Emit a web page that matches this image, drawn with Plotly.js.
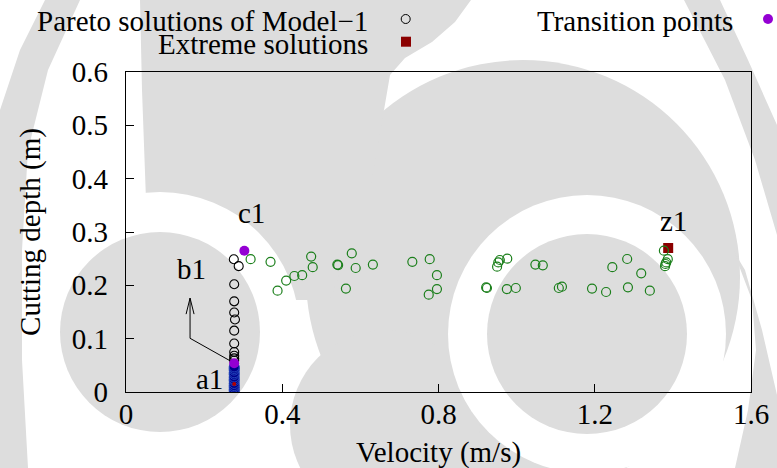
<!DOCTYPE html>
<html>
<head>
<meta charset="utf-8">
<script src="https://cdn.plot.ly/plotly-3.0.1.min.js"></script>
<style>
  html, body { margin: 0; padding: 0; background: #ffffff; }
  #chart { width: 777px; height: 468px; }
</style>
</head>
<body>
<div id="chart"></div>
<script>
// Pareto solutions of Model-1 (velocity in m/s, cutting depth in m)
const model1Velocity = [0.276, 0.2885, 0.277, 0.277, 0.277, 0.279, 0.277, 0.277, 0.277, 0.277, 0.277, 0.277];
const model1Depth    = [0.249, 0.236, 0.202, 0.170, 0.149, 0.136, 0.115, 0.091, 0.075, 0.068, 0.063, 0.059];

// Extreme solutions (a1, z1)
const extremeVelocity = [0.277, 1.388];
const extremeDepth    = [0.000, 0.270];

// Transition points (a1 -> b1 and c1)
const transitionVelocity = [0.277, 0.303];
const transitionDepth    = [0.054, 0.265];

// Second solution family along the upper branch
const upperVelocity = [0.319, 0.370, 0.388, 0.410, 0.431, 0.451, 0.474, 0.478, 0.541, 0.543,
                       0.578, 0.588, 0.563, 0.632, 0.733, 0.7775, 0.796, 0.796, 0.775, 0.922,
                       0.924, 0.957, 0.950, 0.953, 0.976, 0.975, 0.998, 1.048, 1.067, 1.108,
                       1.116, 1.193, 1.229, 1.245, 1.283, 1.285, 1.319, 1.341, 1.377, 1.387,
                       1.383, 1.380, 1.381];
const upperDepth    = [0.249, 0.244, 0.190, 0.209, 0.2175, 0.219, 0.254, 0.234, 0.239, 0.238,
                       0.260, 0.2325, 0.194, 0.239, 0.244, 0.249, 0.219, 0.193, 0.1825, 0.196,
                       0.195, 0.2475, 0.235, 0.243, 0.250, 0.193, 0.195, 0.239, 0.2375, 0.195,
                       0.1975, 0.194, 0.1875, 0.234, 0.2494, 0.1963, 0.2225, 0.190, 0.265, 0.249,
                       0.243, 0.236, 0.240];

// Low-depth cluster stacked at the minimum velocity
const lowVelocity = [0.277, 0.277, 0.277, 0.277, 0.277, 0.277, 0.277, 0.277, 0.277, 0.277, 0.277, 0.277, 0.277];
const lowDepth    = [0.002, 0.005, 0.009, 0.012, 0.016, 0.021, 0.024, 0.028, 0.033, 0.036, 0.041, 0.044, 0.047];
const lowMarkVelocity = [0.277];
const lowMarkDepth    = [0.015];

// Point labels
const labelText     = ['a1', 'b1', 'c1', 'z1'];
const labelVelocity = [0.214, 0.168, 0.322, 1.402];
const labelDepth    = [0.024, 0.230, 0.336, 0.320];

// Arrow from the a1 transition towards b1
const arrowVelocity = [0.266, 0.164, 0.164];
const arrowDepth    = [0.0587, 0.1007, 0.176];

const SERIF = 'Liberation Serif, DejaVu Serif, serif';
const FS = 29;
const GRAY = '#dddddd';

// ---- page geometry helpers (pixel -> paper fraction) ----
const W = 777, H = 468, ML = 126, MR = 26, MT = 72, MB = 76;
const PW = W - ML - MR, PH = H - MT - MB;
const px = x => (x - ML) / PW;
const py = y => (H - MB - y) / PH;

function disc(cx, cy, r, color) {
  return { type: 'circle', xref: 'paper', yref: 'paper', layer: 'below',
    x0: px(cx - r), x1: px(cx + r), y0: py(cy + r), y1: py(cy - r),
    fillcolor: color, line: { width: 0 } };
}
function poly(pts, color) {
  const d = pts.map((p, i) => (i ? 'L' : 'M') + px(p[0]).toFixed(5) + ',' + py(p[1]).toFixed(5)).join(' ') + ' Z';
  return { type: 'path', xref: 'paper', yref: 'paper', layer: 'below', path: d,
    fillcolor: color, line: { width: 0 } };
}

// soft grey swirl decoration behind the figure
const decor = [
  disc(523, 277, 217, GRAY),
  poly([[140, 0], [471, 0], [455, 22], [432, 42], [405, 58], [390, 75], [384, 110], [370, 190],
        [330, 300], [150, 300], [146, 200], [142, 90]], GRAY),
  disc(385, 425, 95, GRAY),
  disc(160, 332, 140, '#ffffff'),
  disc(160, 332, 100, GRAY),
  disc(587, 334, 139, '#ffffff'),
  disc(587, 334, 100, GRAY),
  poly([[45, 0], [80, 0], [48, 70], [28, 150], [22, 250], [22, 360], [28, 468], [0, 468], [0, 110], [20, 50]], GRAY),
  poly([[684, 0], [720, 0], [748, 60], [777, 125], [777, 235], [755, 160], [725, 80]], GRAY),
  poly([[733, 250], [752, 300], [756, 350], [748, 410], [735, 468], [777, 468], [777, 395], [762, 330], [745, 270]], GRAY)
];

// b1 arrow (polyline plus open head)
const headHalf = 0.0102, headLen = 0.030;
const tipV = arrowVelocity[2], tipD = arrowDepth[2];
const arrowShape = {
  type: 'path', xref: 'x', yref: 'y', layer: 'above',
  path: 'M ' + arrowVelocity[0] + ',' + arrowDepth[0] + ' L ' + arrowVelocity[1] + ',' + arrowDepth[1] +
        ' L ' + tipV + ',' + tipD +
        ' M ' + (tipV - headHalf) + ',' + (tipD - headLen) + ' L ' + tipV + ',' + tipD +
        ' L ' + (tipV + headHalf) + ',' + (tipD - headLen),
  line: { color: '#000000', width: 1 }
};

// key symbols drawn in pixel space
const keyShapes = [
  { type: 'circle', xref: 'paper', yref: 'paper', layer: 'above',
    x0: px(405.7 - 4.5), x1: px(405.7 + 4.5), y0: py(19 + 4.5), y1: py(19 - 4.5),
    line: { color: '#000000', width: 1 }, fillcolor: 'rgba(0,0,0,0)' },
  { type: 'rect', xref: 'paper', yref: 'paper', layer: 'above',
    x0: px(401), x1: px(411), y0: py(46.7), y1: py(36.7),
    line: { width: 0 }, fillcolor: '#8b0000' },
  { type: 'circle', xref: 'paper', yref: 'paper', layer: 'above',
    x0: px(768 - 5), x1: px(768 + 5), y0: py(19 + 5), y1: py(19 - 5),
    line: { width: 0 }, fillcolor: '#9400d3' }
];

const keyText = [
  { text: 'Pareto solutions of Model\u22121', x: px(370), y: py(21) },
  { text: 'Extreme solutions', x: px(370), y: py(44) },
  { text: 'Transition points', x: px(735), y: py(21) }
].map(k => ({ xref: 'paper', yref: 'paper', x: k.x, y: k.y, text: k.text,
  xanchor: 'right', yanchor: 'middle', showarrow: false,
  font: { family: SERIF, size: FS, color: '#000000' } }));

// x-axis title placed just under the tick labels
const xTitle = { xref: 'paper', yref: 'paper', x: 0.5, y: py(452), text: 'Velocity (m/s)',
  xanchor: 'center', yanchor: 'middle', showarrow: false,
  font: { family: SERIF, size: FS, color: '#000000' } };

const pointLabels = labelText.map((t, i) => ({
  xref: 'x', yref: 'y', x: labelVelocity[i], y: labelDepth[i], text: t,
  xanchor: 'center', yanchor: 'middle', showarrow: false,
  font: { family: SERIF, size: FS, color: '#000000' }
}));

const traces = [
  { x: model1Velocity, y: model1Depth, type: 'scatter', mode: 'markers', name: 'Pareto solutions of Model\u22121',
    marker: { symbol: 'circle-open', size: 9, color: '#000000', line: { width: 1.1 } } },
  { x: extremeVelocity, y: extremeDepth, type: 'scatter', mode: 'markers', name: 'Extreme solutions',
    marker: { symbol: 'square', size: 10, color: '#8b0000' } },
  { x: upperVelocity, y: upperDepth, type: 'scatter', mode: 'markers', name: 'upper',
    marker: { symbol: 'circle-open', size: 9, color: '#1b7f1b', line: { width: 1.2 } } },
  { x: lowVelocity, y: lowDepth, type: 'scatter', mode: 'markers', name: 'low',
    marker: { symbol: 'circle', size: 10, color: '#00008b', line: { color: '#2244bb', width: 1 } } },
  { x: lowMarkVelocity, y: lowMarkDepth, type: 'scatter', mode: 'markers', name: 'low mark',
    marker: { symbol: 'circle', size: 4, color: '#b00000' } },
  { x: transitionVelocity, y: transitionDepth, type: 'scatter', mode: 'markers', name: 'Transition points',
    marker: { symbol: 'circle', size: 10, color: '#9400d3' } }
];

const axisCommon = {
  showgrid: false, zeroline: false, showline: true, mirror: true,
  linecolor: '#000000', linewidth: 1.3,
  ticks: 'inside', ticklen: 8, tickwidth: 1, tickcolor: '#000000',
  tickfont: { family: SERIF, size: FS, color: '#000000' }
};

const layout = {
  width: W, height: H,
  margin: { l: ML, r: MR, t: MT, b: MB, pad: 0 },
  paper_bgcolor: '#ffffff', plot_bgcolor: 'rgba(0,0,0,0)',
  showlegend: false,
  font: { family: SERIF, size: FS, color: '#000000' },
  xaxis: Object.assign({}, axisCommon, {
    range: [0, 1.6], tickvals: [0, 0.4, 0.8, 1.2, 1.6], ticktext: ['0', '0.4', '0.8', '1.2', '1.6'],
    ticklabelstandoff: -4
  }),
  yaxis: Object.assign({}, axisCommon, {
    range: [0, 0.6], tickvals: [0, 0.1, 0.2, 0.3, 0.4, 0.5, 0.6], ticktext: ['0', '0.1', '0.2', '0.3', '0.4', '0.5', '0.6'],
    ticklabelstandoff: 11,
    title: { text: 'Cutting depth (m)', font: { family: SERIF, size: FS, color: '#000000' }, standoff: 22 }
  }),
  shapes: decor.concat([arrowShape], keyShapes),
  annotations: keyText.concat([xTitle], pointLabels)
};

Plotly.newPlot('chart', traces, layout, { displayModeBar: false, staticPlot: true });
</script>
</body>
</html>
